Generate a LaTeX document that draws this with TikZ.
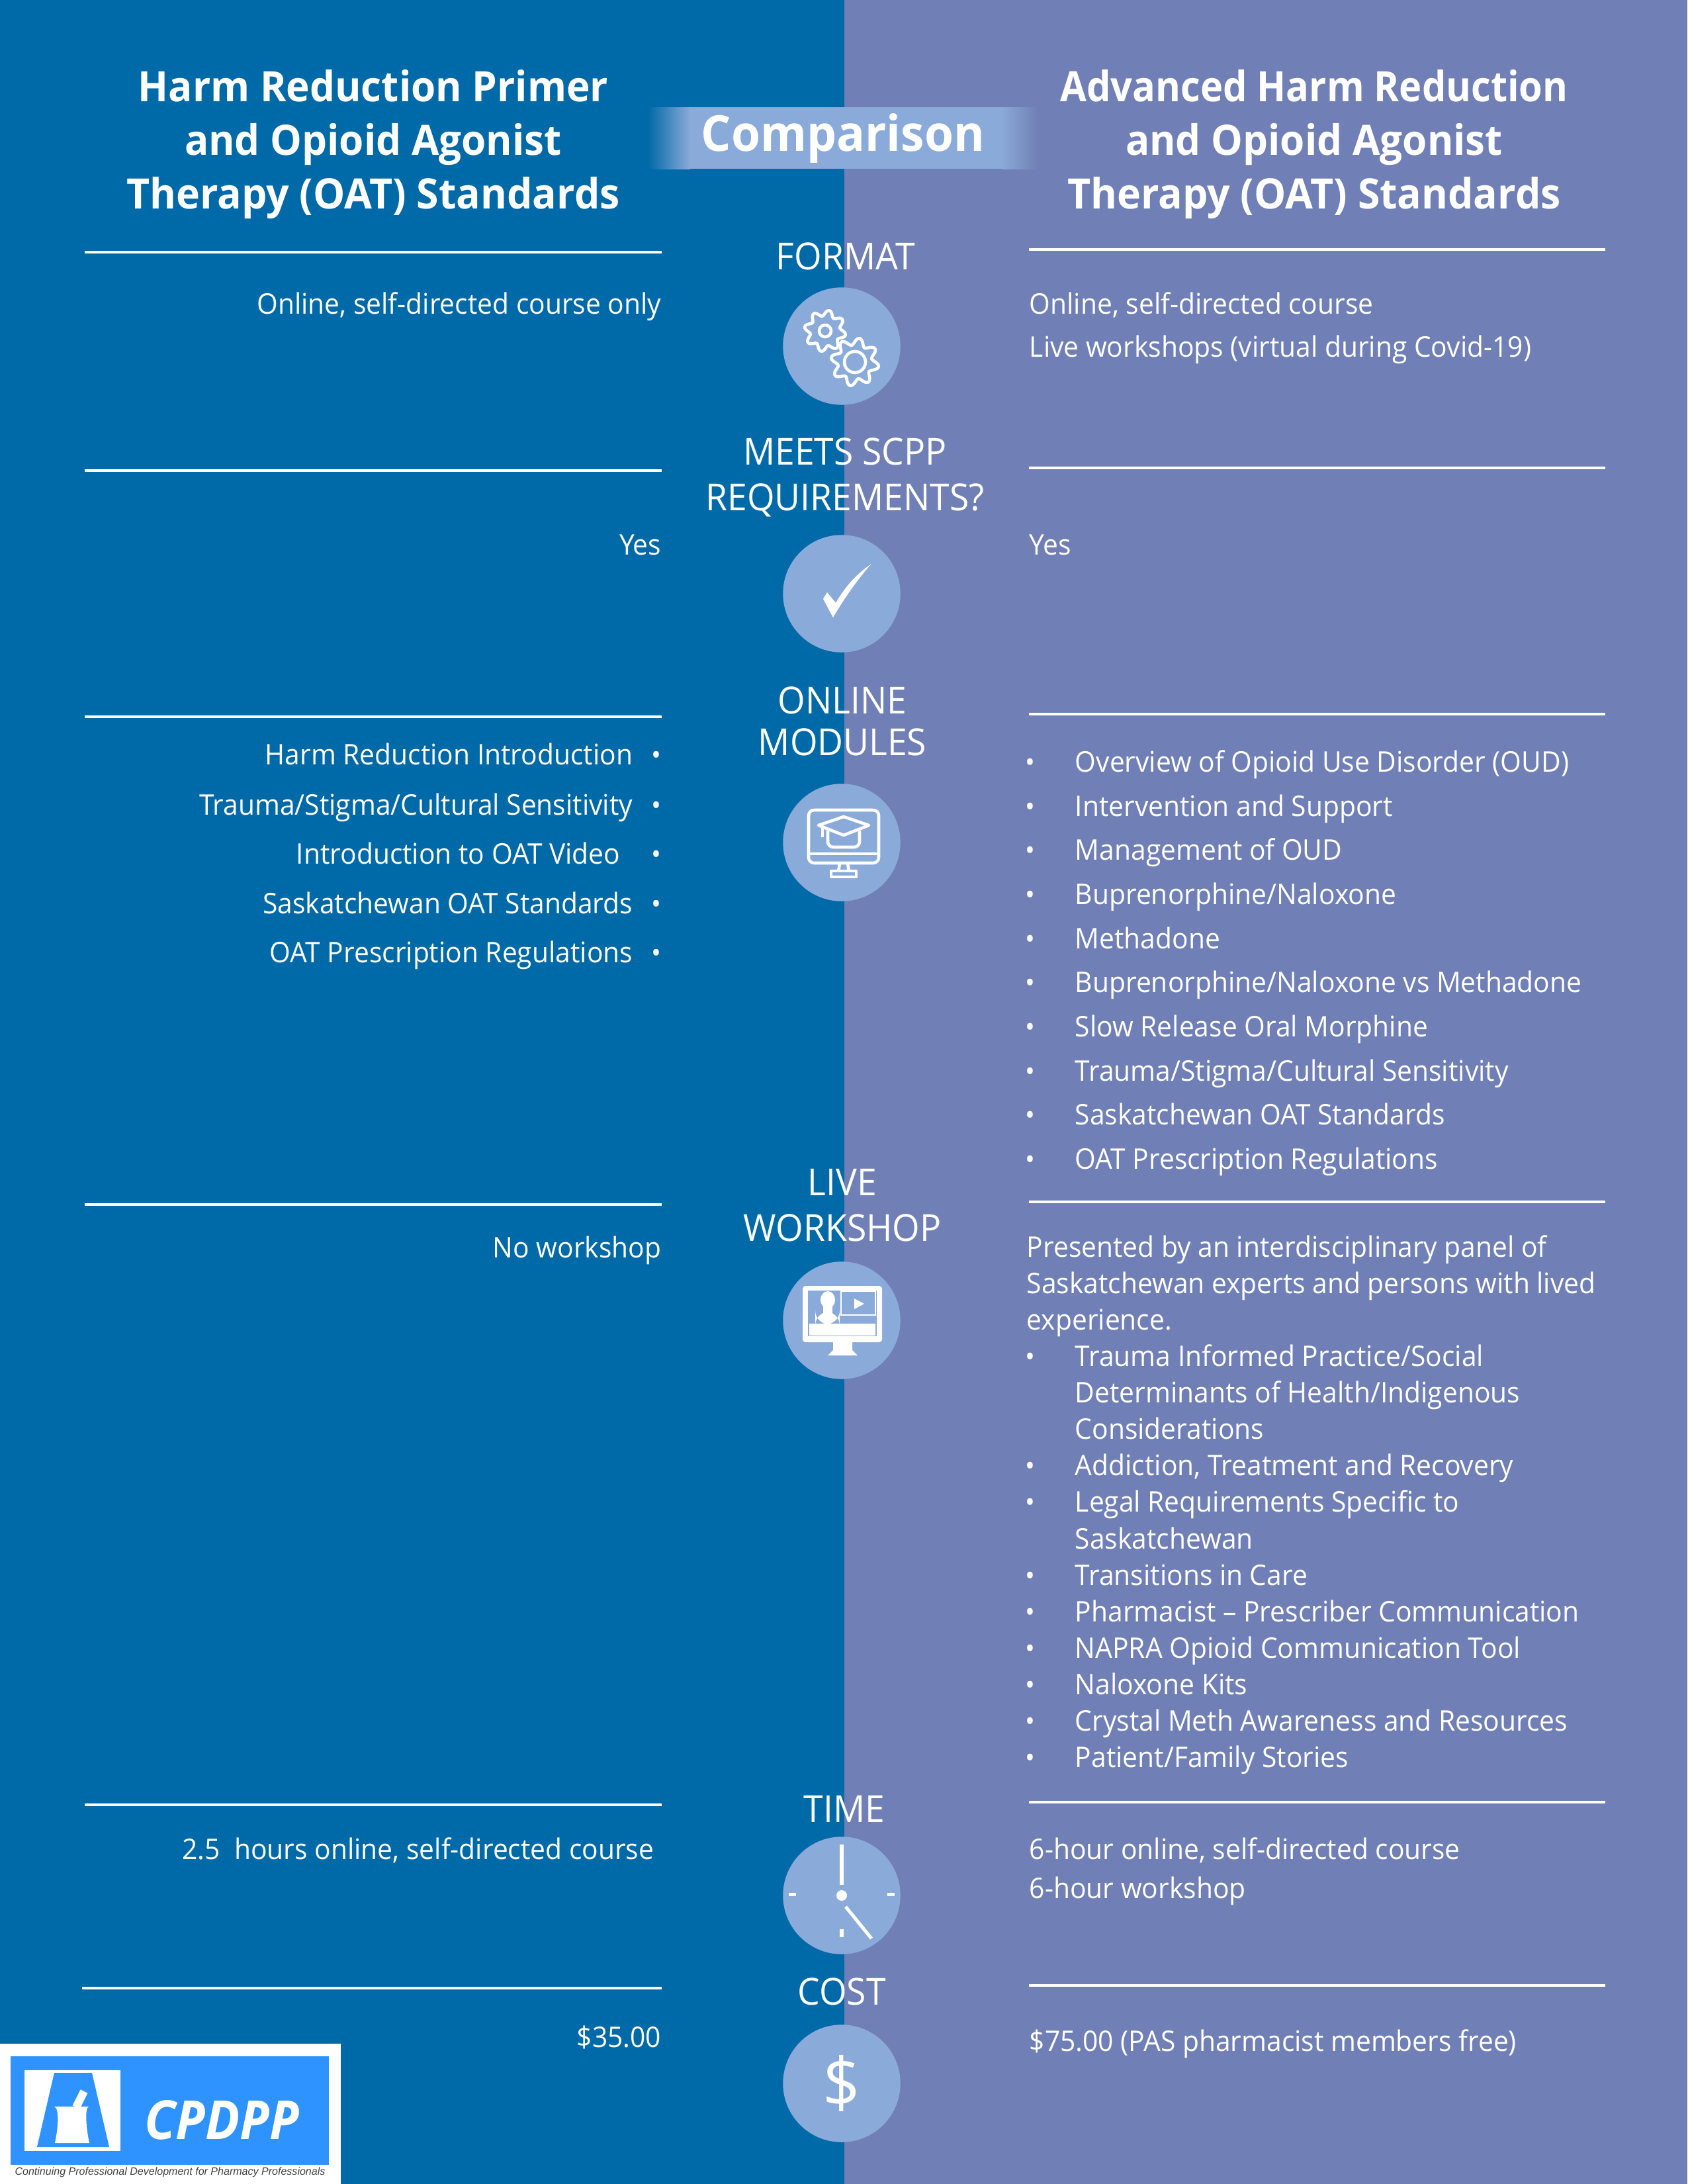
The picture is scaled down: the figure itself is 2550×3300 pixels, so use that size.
\documentclass[tikz,border=0pt]{standalone}
\usepackage{fontspec}
\setmainfont{Open Sans}[FakeStretch=0.95]
\newfontfamily\logofont{Liberation Sans}
\usetikzlibrary{calc}
\definecolor{leftblue}{HTML}{0069A7}
\definecolor{rightblue}{HTML}{7080B6}
\definecolor{paleblue}{HTML}{8AAAD9}
\definecolor{logoblue}{HTML}{2E93FF}
\tikzset{
  x=0.24pt, y=-0.24pt,
  body/.style={text=white, inner sep=0pt, text height=10pt, text depth=2.7pt, font=\fontsize{10.3}{12}\selectfont},
  rtext/.style={body, anchor=east},
  ltext/.style={body, anchor=west},
  bullet/.style={body, font=\fontsize{10}{12}\selectfont},
  itemL/.style={rtext, label={[bullet, label distance=#1]right:•}},
  itemR/.style={ltext, label={[bullet, label distance=14.2pt]left:•}},
  headline/.style={text=white, inner sep=0pt, align=center, font=\fontsize{15.2}{19.4}\selectfont\bfseries},
  sectlabel/.style={text=white, inner sep=0pt, align=center, font=\fontsize{13.5}{16.6}\selectfont},
  roundel/.style={circle, fill=paleblue, inner sep=0pt, minimum size=42.6pt},
  rulerline/.style={draw=white, line width=0.9pt},
  icon/.style={draw=white, line width=1.1pt, line join=round}
}
% one toothed wheel: centre x, centre y, radius, tooth depth
\newcommand{\gearwheel}[4]{
  \draw[icon] plot[smooth cycle, samples=65, domain=0:354.375] ({#1+(#3+#4*sin(8*\x))*cos(\x)}, {#2+(#3+#4*sin(8*\x))*sin(\x)});
}
\begin{document}
\begin{tikzpicture}
  \useasboundingbox (0,0) rectangle (2550,3300);
  \fill[leftblue] (0,0) rectangle (1276,3300);
  \fill[rightblue] (1276,0) rectangle (2550,3300);

  % banner
  \shade[left color=leftblue, right color=paleblue] (979,162) rectangle (1043,255);
  \fill[paleblue] (1043,162) rectangle (1514,255);
  \shade[left color=paleblue, right color=rightblue] (1514,162) rectangle (1568,255);
  \node[text=white, inner sep=0pt, font=\fontsize{18}{22}\selectfont\bfseries] (banner) at (1274,209) {Comparison};

  % column heads
  \node[headline] (headL) at (564,218) {Harm Reduction Primer\\and Opioid Agonist\\\scalebox{1.01}[1]{Therapy (OAT) Standards}};
  \node[headline] (headR) at (1986,218) {\scalebox{0.96}[1]{Advanced Harm Reduction}\\and Opioid Agonist\\\scalebox{1.01}[1]{Therapy (OAT) Standards}};

  % rules
  \draw[rulerline] (128,381) -- (1000,381);
  \draw[rulerline] (128,711) -- (1000,711);
  \draw[rulerline] (128,1083) -- (1000,1083);
  \draw[rulerline] (128,1820) -- (1000,1820);
  \draw[rulerline] (128,2727) -- (1000,2727);
  \draw[rulerline] (124,3004) -- (1000,3004);
  \draw[rulerline] (1555,377) -- (2426,377);
  \draw[rulerline] (1555,707) -- (2426,707);
  \draw[rulerline] (1555,1079) -- (2426,1079);
  \draw[rulerline] (1555,1816) -- (2426,1816);
  \draw[rulerline] (1555,2723) -- (2426,2723);
  \draw[rulerline] (1555,3000) -- (2426,3000);

  % middle labels
  \node[sectlabel] (format) at (1278,387) {FORMAT};
  \node[sectlabel] (scpp) at (1277,721) {MEETS SCPP\\REQUIREMENTS?};
  \node[sectlabel] (online) at (1273,1090) {ONLINE\\[-1.5pt]MODULES};
  \node[sectlabel] (live) at (1273,1821) {LIVE\\WORKSHOP};
  \node[sectlabel] (time) at (1276,2733) {TIME};
  \node[sectlabel] (cost) at (1272,3009) {COST};

  % round icons
  \node[roundel] (gears) at (1272,523) {};
  \node[roundel] (tick) at (1272,897) {};
  \node[roundel] (screen) at (1272,1273) {};
  \node[roundel] (video) at (1272,1995) {};
  \node[roundel] (clock) at (1272,2864) {};
  \node[roundel, text=white, font=\fontsize{25}{28}\selectfont] (dollar) at (1272,3148) {\$};

  % gears
  \gearwheel{1247}{500}{27}{4.5}
  \gearwheel{1292}{547}{31}{5.5}
  \draw[icon] (1247,500) circle[radius=9];
  \draw[icon] (1292,547) circle[radius=16];

  % tick
  \fill[white] (1244,905) -- (1250,895) -- (1263,911) .. controls (1278,885) and (1296,866) .. (1317,852) .. controls (1302,868) and (1278,900) .. (1259,933) -- cycle;

  % screen with cap
  \draw[icon, rounded corners=2pt] (1222,1224) rectangle (1328,1304);
  \draw[icon] (1222,1290) -- (1328,1290);
  \draw[icon] (1269,1305) -- (1267,1316) (1281,1305) -- (1283,1316);
  \draw[icon] (1256,1316) rectangle (1294,1325);
  \draw[icon] (1237,1247) -- (1275,1234) -- (1313,1247) -- (1275,1262) -- cycle;
  \draw[icon, rounded corners=2pt] (1251,1255) -- (1251,1280) -- (1299,1280) -- (1299,1255);
  \draw[icon] (1243,1250) -- (1243,1265);

  % video screen
  \fill[white, rounded corners=1pt] (1213,1943) rectangle (1333,2028);
  \fill[paleblue] (1221,1950) rectangle (1325,2019);
  \fill[white] (1223,2000) rectangle (1323,2018);
  \fill[white] (1251,1964) ellipse[x radius=11, y radius=13];
  \fill[white] (1244,1974) rectangle (1258,1986);
  \fill[white, rounded corners=5pt] (1232,2001) -- (1232,1982) -- (1269,1982) -- (1269,2001) -- cycle;
  \draw[white, line width=0.4pt] (1271,1951) rectangle (1323,1987);
  \fill[white] (1291,1962) -- (1306,1970) -- (1291,1978) -- cycle;
  \fill[white] (1259,2028) -- (1288,2028) -- (1288,2040) -- (1296,2048) -- (1251,2048) -- (1259,2040) -- cycle;

  % clock
  \fill[white] (1269,2787) rectangle (1275,2848);
  \fill[white] (1272,2864) circle[radius=8];
  \fill[white] (1192,2860) rectangle (1203,2865);
  \fill[white] (1341,2860) rectangle (1352,2865);
  \fill[white] (1269,2915) rectangle (1275,2927);
  \draw[white, line width=1.2pt] (1278,2881) -- (1317,2929);

  % left column
  \node[rtext] (fmtL) at (1000,459) {Online, self-directed course only};
  \node[rtext] (scppL) at (1000,823) {Yes};
  \node[itemL=6.3pt] (modL1) at (957,1140) {Harm Reduction Introduction};
  \node[itemL=6.3pt] (modL2) at (957,1216) {Trauma/Stigma/Cultural Sensitivity};
  \node[itemL=10.9pt] (modL3) at (938,1290) {Introduction to OAT Video};
  \node[itemL=6.3pt] (modL4) at (957,1365) {Saskatchewan OAT Standards};
  \node[itemL=6.3pt] (modL5) at (957,1439) {OAT Prescription Regulations};
  \node[rtext] (liveL) at (1000,1885) {No workshop};
  \node[rtext] (timeL) at (989,2794) {2.5\ \ hours online, self-directed course};
  \node[rtext] (costL) at (1000,3078) {\$35.00};

  % right column
  \node[ltext] (fmtR1) at (1555,459) {Online, self-directed course};
  \node[ltext] (fmtR2) at (1555,524) {Live workshops (virtual during Covid-19)};
  \node[ltext] (scppR) at (1555,823) {Yes};
  \node[itemR] (modR1) at (1624,1151) {Overview of Opioid Use Disorder (OUD)};
  \node[itemR] (modR2) at (1624,1218) {Intervention and Support};
  \node[itemR] (modR3) at (1624,1284) {Management of OUD};
  \node[itemR] (modR4) at (1624,1351) {Buprenorphine/Naloxone};
  \node[itemR] (modR5) at (1624,1418) {Methadone};
  \node[itemR] (modR6) at (1624,1484) {Buprenorphine/Naloxone vs Methadone};
  \node[itemR] (modR7) at (1624,1551) {Slow Release Oral Morphine};
  \node[itemR] (modR8) at (1624,1618) {Trauma/Stigma/Cultural Sensitivity};
  \node[itemR] (modR9) at (1624,1684) {Saskatchewan OAT Standards};
  \node[itemR] (modR10) at (1624,1751) {OAT Prescription Regulations};
  \node[ltext] (liveR1) at (1551,1884) {Presented by an interdisciplinary panel of};
  \node[ltext] (liveR2) at (1551,1939) {Saskatchewan experts and persons with lived};
  \node[ltext] (liveR3) at (1551,1994) {experience.};
  \node[itemR] (liveR4) at (1624,2049) {Trauma Informed Practice/Social};
  \node[ltext] (liveR5) at (1624,2104) {Determinants of Health/Indigenous};
  \node[ltext] (liveR6) at (1624,2159) {Considerations};
  \node[itemR] (liveR7) at (1624,2214) {Addiction, Treatment and Recovery};
  \node[itemR] (liveR8) at (1624,2269) {Legal Requirements Specific to};
  \node[ltext] (liveR9) at (1624,2325) {Saskatchewan};
  \node[itemR] (liveR10) at (1624,2380) {Transitions in Care};
  \node[itemR] (liveR11) at (1624,2435) {Pharmacist -- Prescriber Communication};
  \node[itemR] (liveR12) at (1624,2490) {NAPRA Opioid Communication Tool};
  \node[itemR] (liveR13) at (1624,2545) {Naloxone Kits};
  \node[itemR] (liveR14) at (1624,2600) {Crystal Meth Awareness and Resources};
  \node[itemR] (liveR15) at (1624,2655) {Patient/Family Stories};
  \node[ltext] (timeR1) at (1555,2794) {6-hour online, self-directed course};
  \node[ltext] (timeR2) at (1555,2853) {6-hour workshop};
  \node[ltext] (costR) at (1555,3084) {\$75.00 (PAS pharmacist members free)};

  % logo
  \fill[white] (0,3088) rectangle (515,3300);
  \fill[logoblue] (16,3107) rectangle (497,3271);
  \fill[white] (37,3128) rectangle (182,3250);
  \fill[logoblue] (82,3132) -- (139,3132) -- (165,3244) -- (56,3244) -- cycle;
  \fill[white] (82,3183) .. controls (90,3185) and (88,3215) .. (83,3238) -- (135,3238) .. controls (130,3215) and (128,3185) .. (134,3183) -- cycle;
  \draw[white, line width=2.9pt] (115,3184) -- (127,3160);
  \node[text=white, inner sep=0pt, font=\fontsize{19.5}{22}\selectfont\bfseries\itshape] (cpdpp) at (335,3203) {CPDPP};
  \node[text=black!75, inner sep=0pt, font=\logofont\fontsize{3.85}{5}\selectfont\itshape] (tagline) at (257,3282) {Continuing Professional Development for Pharmacy Professionals};
\end{tikzpicture}
\end{document}
